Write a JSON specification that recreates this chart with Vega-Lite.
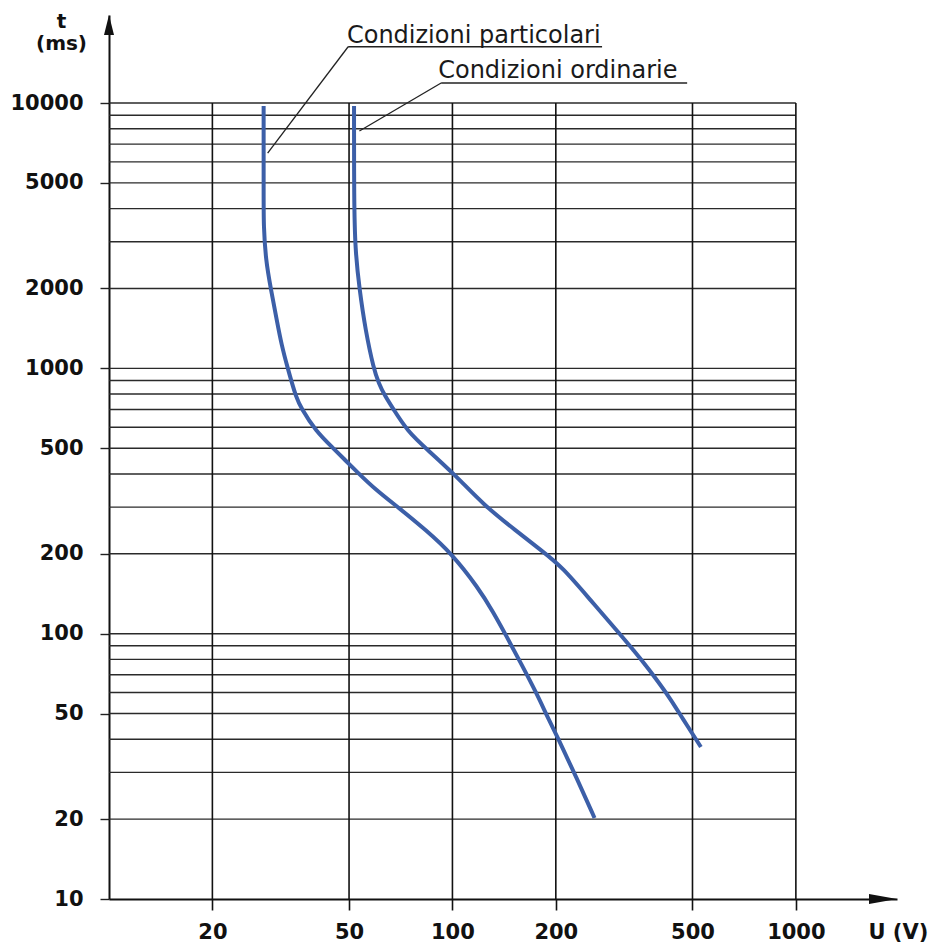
{
  "$schema": "https://vega.github.io/schema/vega-lite/v6.json",
  "width": 788,
  "height": 884,
  "autosize": {"type": "none"},
  "padding": {"left": 109, "top": 15, "right": 38, "bottom": 45},
  "background": "white",
  "view": {"stroke": null},
  "config": {"font": "DejaVu Sans", "axis": {"labelFont": "DejaVu Sans", "titleFont": "DejaVu Sans"}},
  "datasets": {
    "hgrid": [
      {"t": 10000}, {"t": 9000}, {"t": 8000}, {"t": 7000}, {"t": 6000}, {"t": 5000}, {"t": 4000}, {"t": 3000}, {"t": 2000},
      {"t": 1000}, {"t": 900}, {"t": 800}, {"t": 700}, {"t": 600}, {"t": 500}, {"t": 400}, {"t": 300}, {"t": 200},
      {"t": 100}, {"t": 90}, {"t": 80}, {"t": 70}, {"t": 60}, {"t": 50}, {"t": 40}, {"t": 30}, {"t": 20}
    ],
    "vgrid": [{"u": 20}, {"u": 50}, {"u": 100}, {"u": 200}, {"u": 500}, {"u": 1000}],
    "curves": [
      {"series": "Condizioni particolari", "u": 28.2, "t": 9750},
      {"series": "Condizioni particolari", "u": 28.2, "t": 4310},
      {"series": "Condizioni particolari", "u": 28.2, "t": 3467},
      {"series": "Condizioni particolari", "u": 28.6, "t": 2560},
      {"series": "Condizioni particolari", "u": 29.6, "t": 1991},
      {"series": "Condizioni particolari", "u": 30.8, "t": 1521},
      {"series": "Condizioni particolari", "u": 31.8, "t": 1225},
      {"series": "Condizioni particolari", "u": 33.2, "t": 994},
      {"series": "Condizioni particolari", "u": 34.1, "t": 880},
      {"series": "Condizioni particolari", "u": 35.0, "t": 787},
      {"series": "Condizioni particolari", "u": 36.2, "t": 709},
      {"series": "Condizioni particolari", "u": 40.0, "t": 580},
      {"series": "Condizioni particolari", "u": 45.2, "t": 497},
      {"series": "Condizioni particolari", "u": 48.7, "t": 451},
      {"series": "Condizioni particolari", "u": 52.8, "t": 407},
      {"series": "Condizioni particolari", "u": 59.4, "t": 351},
      {"series": "Condizioni particolari", "u": 70.5, "t": 295},
      {"series": "Condizioni particolari", "u": 83.6, "t": 246},
      {"series": "Condizioni particolari", "u": 99.3, "t": 201},
      {"series": "Condizioni particolari", "u": 118.9, "t": 149},
      {"series": "Condizioni particolari", "u": 131.3, "t": 121},
      {"series": "Condizioni particolari", "u": 144.1, "t": 97.2},
      {"series": "Condizioni particolari", "u": 158.1, "t": 77.5},
      {"series": "Condizioni particolari", "u": 175.6, "t": 59.8},
      {"series": "Condizioni particolari", "u": 189.2, "t": 48.5},
      {"series": "Condizioni particolari", "u": 203, "t": 40.4},
      {"series": "Condizioni particolari", "u": 229.3, "t": 28.8},
      {"series": "Condizioni particolari", "u": 259.3, "t": 20.2},
      {"series": "Condizioni ordinarie", "u": 51.7, "t": 9750},
      {"series": "Condizioni ordinarie", "u": 51.7, "t": 4310},
      {"series": "Condizioni ordinarie", "u": 52.1, "t": 2793},
      {"series": "Condizioni ordinarie", "u": 53.6, "t": 1991},
      {"series": "Condizioni ordinarie", "u": 55.8, "t": 1394},
      {"series": "Condizioni ordinarie", "u": 59.0, "t": 994},
      {"series": "Condizioni ordinarie", "u": 61.0, "t": 880},
      {"series": "Condizioni ordinarie", "u": 63.6, "t": 787},
      {"series": "Condizioni ordinarie", "u": 67.0, "t": 709},
      {"series": "Condizioni ordinarie", "u": 73.9, "t": 580},
      {"series": "Condizioni ordinarie", "u": 84.8, "t": 492},
      {"series": "Condizioni ordinarie", "u": 101.2, "t": 399.7},
      {"series": "Condizioni ordinarie", "u": 124.2, "t": 302.8},
      {"series": "Condizioni ordinarie", "u": 152.3, "t": 245.8},
      {"series": "Condizioni ordinarie", "u": 181.1, "t": 206.6},
      {"series": "Condizioni ordinarie", "u": 208.9, "t": 178.4},
      {"series": "Condizioni ordinarie", "u": 252, "t": 134},
      {"series": "Condizioni ordinarie", "u": 312.8, "t": 97.2},
      {"series": "Condizioni ordinarie", "u": 336, "t": 86.8},
      {"series": "Condizioni ordinarie", "u": 361, "t": 77.5},
      {"series": "Condizioni ordinarie", "u": 386, "t": 69.3},
      {"series": "Condizioni ordinarie", "u": 430, "t": 57.2},
      {"series": "Condizioni ordinarie", "u": 465, "t": 48.5},
      {"series": "Condizioni ordinarie", "u": 529, "t": 37.4}
    ],
    "leaders": [
      {"u1": 28.97, "t1": 6480, "u2": 49.7, "t2": 16300},
      {"u1": 49.7, "t1": 16300, "u2": 272.7, "t2": 16300},
      {"u1": 53.6, "t1": 7845, "u2": 92.7, "t2": 11900},
      {"u1": 92.7, "t1": 11900, "u2": 482.4, "t2": 11900}
    ],
    "labels": [
      {"u": 49.3, "t": 16840, "label": "Condizioni particolari"},
      {"u": 90.9, "t": 12430, "label": "Condizioni ordinarie"}
    ],
    "arrowUp": [{"u": 10, "t": 21470}],
    "arrowRight": [{"u": 1970, "t": 10}]
  },
  "layer": [
    {
      "data": {"name": "hgrid"},
      "mark": {"type": "rule", "color": "#2a2a2a", "strokeWidth": 1.4},
      "encoding": {
        "y": {"field": "t", "type": "quantitative", "scale": {"type": "log", "domain": [10, 21470], "nice": false}},
        "x": {"datum": 10, "type": "quantitative", "scale": {"type": "log", "domain": [10, 1970], "nice": false}},
        "x2": {"datum": 1000}
      }
    },
    {
      "data": {"name": "vgrid"},
      "mark": {"type": "rule", "color": "#111111", "strokeWidth": 1.6},
      "encoding": {
        "x": {"field": "u", "type": "quantitative", "scale": {"type": "log", "domain": [10, 1970], "nice": false}},
        "y": {"datum": 10, "type": "quantitative", "scale": {"type": "log", "domain": [10, 21470], "nice": false}},
        "y2": {"datum": 10000}
      }
    },
    {
      "data": {"name": "leaders"},
      "mark": {"type": "rule", "color": "#222222", "strokeWidth": 1.3},
      "encoding": {
        "x": {"field": "u1", "type": "quantitative", "scale": {"type": "log", "domain": [10, 1970], "nice": false}},
        "y": {"field": "t1", "type": "quantitative", "scale": {"type": "log", "domain": [10, 21470], "nice": false}},
        "x2": {"field": "u2"},
        "y2": {"field": "t2"}
      }
    },
    {
      "data": {"name": "labels"},
      "mark": {"type": "text", "align": "left", "baseline": "alphabetic", "font": "DejaVu Sans", "fontSize": 24, "color": "#1a1a1a"},
      "encoding": {
        "x": {"field": "u", "type": "quantitative", "scale": {"type": "log", "domain": [10, 1970], "nice": false}},
        "y": {"field": "t", "type": "quantitative", "scale": {"type": "log", "domain": [10, 21470], "nice": false}},
        "text": {"field": "label"}
      }
    },
    {
      "data": {"name": "curves"},
      "mark": {"type": "line", "color": "#3c5fa8", "strokeWidth": 4, "interpolate": "basis"},
      "encoding": {
        "x": {
          "field": "u", "type": "quantitative",
          "scale": {"type": "log", "domain": [10, 1970], "nice": false},
          "axis": {
            "values": [20, 50, 100, 200, 500, 1000], "format": "d",
            "labelFontSize": 21, "labelFontWeight": "bold", "labelColor": "#111111",
            "labelPadding": 11, "labelFlush": false, "labelOverlap": false,
            "tickSize": 11, "tickWidth": 1.6, "tickColor": "#111111",
            "domainColor": "#111111", "domainWidth": 2, "grid": false,
            "title": "U (V)", "titleFontSize": 21, "titleFontWeight": "bold", "titleColor": "#111111",
            "titleAlign": "left", "titleAnchor": "start", "titleBaseline": "alphabetic", "titleX": 759, "titleY": 39
          }
        },
        "y": {
          "field": "t", "type": "quantitative",
          "scale": {"type": "log", "domain": [10, 21470], "nice": false},
          "axis": {
            "values": [10, 20, 50, 100, 200, 500, 1000, 2000, 5000, 10000], "format": "d",
            "labelFontSize": 21, "labelFontWeight": "bold", "labelColor": "#111111",
            "labelPadding": 17, "labelFlush": false, "labelOverlap": false,
            "tickSize": 9, "tickWidth": 1.4, "tickColor": "#222222",
            "domainColor": "#111111", "domainWidth": 2, "grid": false,
            "title": ["t", "(ms)"], "titleFontSize": 20, "titleFontWeight": "bold", "titleColor": "#111111",
            "titleAngle": 0, "titleAlign": "center", "titleBaseline": "alphabetic", "titleLineHeight": 22,
            "titleX": -48, "titleY": 12
          }
        },
        "detail": {"field": "series"},
        "order": {"field": "t", "sort": "descending"}
      }
    },
    {
      "data": {"name": "arrowUp"},
      "mark": {"type": "point", "shape": "M0,0L-0.25,1L0.25,1Z", "size": 1600, "filled": true, "color": "#111111", "opacity": 1},
      "encoding": {
        "x": {"field": "u", "type": "quantitative", "scale": {"type": "log", "domain": [10, 1970], "nice": false}},
        "y": {"field": "t", "type": "quantitative", "scale": {"type": "log", "domain": [10, 21470], "nice": false}}
      }
    },
    {
      "data": {"name": "arrowRight"},
      "mark": {"type": "point", "shape": "M0,0L-1,-0.18L-1,0.18Z", "size": 3136, "filled": true, "color": "#111111", "opacity": 1},
      "encoding": {
        "x": {"field": "u", "type": "quantitative", "scale": {"type": "log", "domain": [10, 1970], "nice": false}},
        "y": {"field": "t", "type": "quantitative", "scale": {"type": "log", "domain": [10, 21470], "nice": false}}
      }
    }
  ]
}
